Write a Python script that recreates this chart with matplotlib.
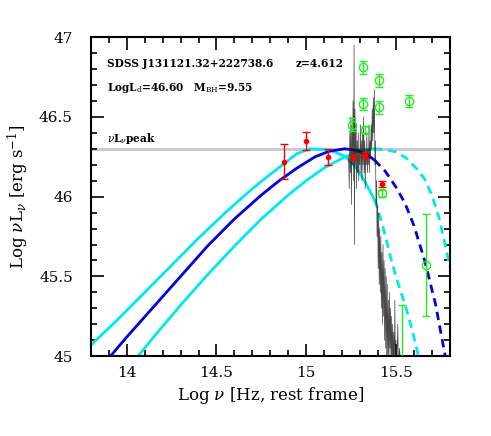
import numpy as np
import matplotlib
matplotlib.use('Agg')
from matplotlib import pyplot as plt
from matplotlib.ticker import MultipleLocator

plt.rcParams['font.family'] = 'DejaVu Serif'
plt.rcParams['mathtext.fontset'] = 'dejavuserif'

# valori
peak = 46.30

disk_x = [13.909, 14.0, 14.15, 14.30, 14.45, 14.60, 14.75, 14.85, 14.95, 15.05, 15.13, 15.215, 15.28, 15.33, 15.38]
disk_y = [45.00, 45.12, 45.31, 45.50, 45.69, 45.86, 46.01, 46.10, 46.18, 46.25, 46.285, 46.30, 46.29, 46.27, 46.23]
disk_dx = [15.38, 15.44, 15.50, 15.55, 15.60, 15.66, 15.72, 15.77, 15.78]
disk_dy = [46.23, 46.16, 46.06, 45.96, 45.82, 45.60, 45.33, 45.03, 44.97]

cyanA_x = [13.80, 13.95, 14.10, 14.25, 14.40, 14.55, 14.70, 14.80, 14.88, 14.95, 15.02, 15.10, 15.16, 15.22, 15.28, 15.33, 15.38]
cyanA_y = [45.07, 45.23, 45.40, 45.57, 45.74, 45.90, 46.05, 46.14, 46.21, 46.27, 46.30, 46.295, 46.28, 46.25, 46.18, 46.09, 45.98]
cyanA_dx = [15.38, 15.40, 15.44, 15.47, 15.50, 15.54, 15.57, 15.60, 15.63]
cyanA_dy = [45.98, 45.92, 45.76, 45.62, 45.50, 45.36, 45.25, 45.12, 44.98]

cyanB_x = [14.063, 14.15, 14.30, 14.45, 14.60, 14.75, 14.90, 15.00, 15.10, 15.20, 15.29, 15.38]
cyanB_y = [45.00, 45.12, 45.32, 45.51, 45.69, 45.86, 46.01, 46.10, 46.18, 46.24, 46.285, 46.30]
cyanB_dx = [15.38, 15.44, 15.50, 15.56, 15.62, 15.66, 15.70, 15.74, 15.77, 15.80]
cyanB_dy = [46.30, 46.295, 46.28, 46.24, 46.17, 46.11, 46.01, 45.87, 45.72, 45.56]

# fotometria
red_x = [14.878, 15.00, 15.12, 15.26, 15.33, 15.42]
red_y = [46.22, 46.35, 46.25, 46.25, 46.26, 46.08]
red_e = [0.11, 0.055, 0.05, 0.02, 0.02, 0.02]

green_x = [15.317, 15.406, 15.317, 15.406, 15.572, 15.256, 15.33, 15.422, 15.665]
green_y = [46.81, 46.73, 46.58, 46.56, 46.60, 46.45, 46.42, 46.02, 45.57]
green_e = [0.04, 0.04, 0.04, 0.04, 0.04, 0.04, 0.02, 0.02, 0.32]
# punto sotto l'asse, si vede solo la barra superiore
green_low_x = [15.535]
green_low_y = [44.85]
green_low_e = [0.47]

# spettro SDSS
spec_x = [15.236, 15.240, 15.243, 15.246, 15.249, 15.252, 15.255, 15.258, 15.261, 15.264,
          15.267, 15.269, 15.272, 15.275, 15.278, 15.281, 15.284, 15.287, 15.290, 15.293,
          15.296, 15.299, 15.302, 15.305, 15.308, 15.311, 15.314, 15.317, 15.320, 15.323,
          15.326, 15.329, 15.332, 15.335, 15.338, 15.341, 15.344, 15.347, 15.350, 15.353,
          15.356, 15.359, 15.362, 15.365, 15.368, 15.371, 15.374, 15.377, 15.380, 15.383,
          15.386, 15.389, 15.392, 15.395, 15.398, 15.401, 15.404, 15.407, 15.410, 15.413,
          15.416, 15.419, 15.422, 15.425, 15.428, 15.431, 15.434, 15.437, 15.440, 15.443,
          15.446, 15.449, 15.452, 15.455, 15.458, 15.461, 15.464, 15.467, 15.470, 15.473,
          15.476, 15.479, 15.482, 15.485, 15.488, 15.491, 15.494, 15.497, 15.500, 15.505,
          15.510, 15.515, 15.520, 15.530, 15.540, 15.550]
spec_y = [46.25, 46.05, 46.40, 46.15, 46.50, 45.95, 46.45, 46.20, 46.60, 46.10,
          46.95, 45.70, 46.55, 46.20, 46.45, 46.05, 46.35, 46.15, 46.40, 46.10,
          46.30, 46.20, 46.45, 46.15, 46.35, 46.10, 46.40, 46.20, 46.50, 46.15,
          46.35, 46.05, 46.30, 46.20, 46.40, 46.15, 46.30, 46.20, 46.45, 46.15,
          46.35, 46.25, 46.45, 46.30, 46.55, 46.35, 46.62, 46.40, 46.67, 46.20,
          46.35, 45.95, 46.10, 45.75, 45.95, 45.55, 45.90, 45.45, 45.80, 45.40,
          45.75, 45.30, 45.65, 45.20, 45.70, 45.25, 45.60, 45.10, 45.55, 45.05,
          45.50, 44.95, 45.45, 45.00, 45.35, 44.90, 45.40, 45.05, 45.30, 44.90,
          45.25, 44.95, 45.20, 44.90, 45.15, 44.90, 45.35, 44.95, 45.10, 44.90,
          45.20, 44.90, 45.05, 44.90, 45.00, 44.90]

fig = plt.figure(figsize=(4.91, 4.36), dpi=100)
ax = fig.add_axes([0.185, 0.183, 0.731, 0.732])

ax.axhline(peak, color='#c8c8c8', lw=2, zorder=1)

ax.plot(cyanA_x, cyanA_y, color='#00e8f0', lw=2, zorder=2)
ax.plot(cyanA_dx, cyanA_dy, color='#00e8f0', lw=2, ls=(0, (3, 2)), zorder=2)
ax.plot(cyanB_x, cyanB_y, color='#00e8f0', lw=2, zorder=2)
ax.plot(cyanB_dx, cyanB_dy, color='#00e8f0', lw=2, ls=(0, (3, 2)), zorder=2)
ax.plot(disk_x, disk_y, color='#0000dd', lw=2, zorder=3)
ax.plot(disk_dx, disk_dy, color='#0000dd', lw=2, ls=(0, (3, 2)), zorder=3)

ax.plot(spec_x, spec_y, color='0.1', lw=0.5, alpha=0.8, zorder=4)

ax.errorbar(red_x, red_y, yerr=red_e, fmt='o', color='red', ms=3, capsize=3, elinewidth=1, zorder=6)
ax.errorbar(green_x, green_y, yerr=green_e, fmt='o', mfc='none', mec='#22ee22', ecolor='#22ee22',
            ms=6, mew=1, capsize=3, elinewidth=1, zorder=5)
ax.errorbar(green_low_x, green_low_y, yerr=green_low_e, fmt='none', ecolor='#22ee22',
            capsize=3, elinewidth=1, zorder=5)

ax.set_xlim(13.8, 15.8)
ax.set_ylim(45, 47)
ax.xaxis.set_minor_locator(MultipleLocator(0.1))
ax.yaxis.set_minor_locator(MultipleLocator(0.1))
ax.set_xticks([14, 14.5, 15, 15.5])
ax.set_xticklabels(['14', '14.5', '15', '15.5'])
ax.set_yticks([45, 45.5, 46, 46.5, 47])
ax.set_yticklabels(['45', '45.5', '46', '46.5', '47'])
ax.tick_params(which='both', direction='in', top=True, right=True, labelsize=11, width=1.2)
ax.tick_params(which='major', length=9, pad=7)
ax.tick_params(axis='y', which='major', pad=13)
ax.tick_params(which='minor', length=4.5)
for s in ax.spines.values():
    s.set_linewidth(1.5)

ax.set_xlabel(r'Log $\nu$ [Hz, rest frame]', fontsize=12)
ax.set_ylabel(r'Log $\nu$L$_\nu$ [erg s$^{-1}$]', fontsize=12, labelpad=6)

ax.text(0.045, 0.905, 'SDSS J131121.32+222738.6', transform=ax.transAxes, fontsize=7.6, fontweight='bold')
ax.text(0.57, 0.905, 'z=4.612', transform=ax.transAxes, fontsize=7.6, fontweight='bold')
ax.text(0.045, 0.83, r'LogL$_{\rm d}$=46.60   M$_{\rm BH}$=9.55', transform=ax.transAxes, fontsize=7.6, fontweight='bold')
ax.text(0.045, 0.67, r'$\nu$L$_\nu$peak', transform=ax.transAxes, fontsize=7.6, fontweight='bold')

plt.savefig('out.png', dpi=100)
